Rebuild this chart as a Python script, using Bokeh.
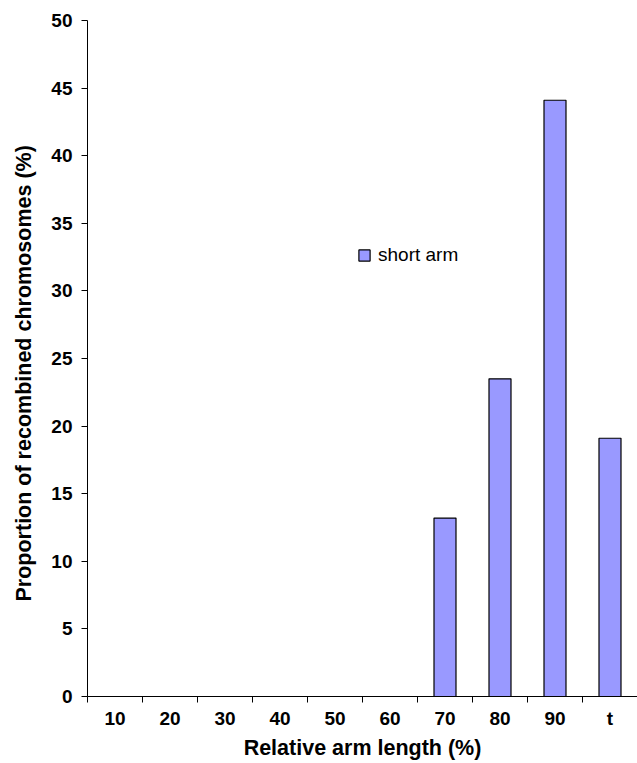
from bokeh.plotting import figure
from bokeh.models import FixedTicker, Legend, LegendItem, ColumnDataSource, Range1d, Title
from bokeh.embed import file_html
from bokeh.resources import INLINE

categories = ["10", "20", "30", "40", "50", "60", "70", "80", "90", "t"]
short_arm = [0, 0, 0, 0, 0, 0, 13.2, 23.5, 44.1, 19.1]
y_ticks = [0, 5, 10, 15, 20, 25, 30, 35, 40, 45, 50]

FONT = "Liberation Sans"
n = len(categories)
centers = [i + 0.5 for i in range(n)]
bounds = [i for i in range(n + 1)]

p = figure(width=637, height=763, output_backend="svg", toolbar_location=None,
           x_range=Range1d(0, n), y_range=Range1d(0, 50),
           min_border_left=87, min_border_right=0, min_border_top=20, min_border_bottom=67)
p.outline_line_color = None
p.xgrid.visible = False
p.ygrid.visible = False

src = ColumnDataSource(dict(x=centers, top=short_arm, cat=categories))
r = p.vbar(x="x", top="top", width=0.4, bottom=0, source=src,
           fill_color="#9999FF", line_color="black", line_width=1.2)

# x axis
xa = p.xaxis[0]
xa.ticker = FixedTicker(ticks=centers, minor_ticks=bounds)
xa.major_label_overrides = {c: lab for c, lab in zip(centers, categories)}
xa.major_tick_out = 0
xa.major_tick_in = 0
xa.minor_tick_out = 6
xa.minor_tick_in = 0
xa.minor_tick_line_color = "black"
xa.axis_line_color = "black"
xa.major_label_text_font = FONT
xa.major_label_text_font_style = "bold"
xa.major_label_text_font_size = "19px"
xa.major_label_text_color = "black"
xa.major_label_standoff = 5
xa.axis_label = "Relative arm length (%)"
xa.axis_label_text_font = FONT
xa.axis_label_text_font_style = "bold"
xa.axis_label_text_font_size = "21.5px"
xa.axis_label_text_color = "black"
xa.axis_label_standoff = 4

# y axis
ya = p.yaxis[0]
ya.ticker = FixedTicker(ticks=y_ticks)
ya.major_tick_out = 6
ya.major_tick_in = 0
ya.minor_tick_line_color = None
ya.axis_line_color = "black"
ya.major_tick_line_color = "black"
ya.major_label_text_font = FONT
ya.major_label_text_font_style = "bold"
ya.major_label_text_font_size = "19px"
ya.major_label_text_color = "black"
ya.major_label_standoff = 9

ytitle = Title(text="Proportion of recombined chromosomes (%)",
               align="left", vertical_align="top", offset=95, standoff=21,
               text_font=FONT, text_font_style="bold", text_font_size="21.5px",
               text_color="black")
p.add_layout(ytitle, "left")

legend = Legend(items=[LegendItem(label="short arm", renderers=[r])],
                location=(270, 430), padding=0, margin=0, spacing=0,
                border_line_color=None, background_fill_alpha=0,
                glyph_width=14, glyph_height=14, label_height=14, label_standoff=7,
                label_text_font=FONT, label_text_font_size="19px", label_text_color="black")
p.add_layout(legend, "center")

open("out.html", "w").write(file_html(p, INLINE))
